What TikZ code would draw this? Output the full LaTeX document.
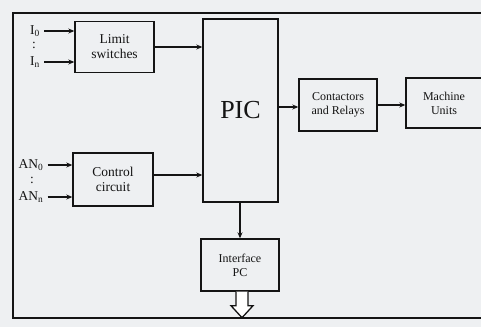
\documentclass[tikz,border=0pt]{standalone}
\usepackage{fontspec}
\setmainfont{Liberation Serif}
\usetikzlibrary{arrows.meta}
\definecolor{bgc}{RGB}{238,240,242}
\definecolor{ink}{RGB}{20,20,20}
\begin{document}
\begin{tikzpicture}[x=1pt,y=-1pt,
  box/.style={draw=ink, text=ink, line width=1.4pt, inner sep=0pt, align=center},
  conn/.style={draw=ink, line width=1.4pt, -{Stealth[length=6pt,width=5pt]}},
  lbl/.style={text=ink, inner sep=0pt, font=\fontsize{13.5}{15}\selectfont},
  mid/.style={font=\fontsize{13.5}{15}\selectfont},
  sml/.style={font=\fontsize{12}{14}\selectfont}]
\useasboundingbox (0,0) rectangle (481,327);
\clip (0,0) rectangle (481,327);
\fill[bgc] (0,0) rectangle (481,327);
\draw[ink, line width=2.4pt] (490,13) -- (13,13) -- (13,318) -- (490,318);

\node[box, mid, minimum width=79pt, minimum height=51pt] (lim) at (114.5,47) {Limit\\switches};
\node[box, mid, minimum width=80pt, minimum height=53pt] (ctl) at (113,179.5) {Control\\circuit};
\node[box, minimum width=75pt, minimum height=183pt, font=\fontsize{26}{30}\selectfont] (pic) at (240.5,110.5) {PIC};
\node[box, sml, minimum width=78pt, minimum height=52pt] (cont) at (338,105) {Contactors\\and Relays};
\node[box, sml, minimum width=76pt, minimum height=50pt] (mach) at (444,103) {Machine\\Units};
\node[box, sml, minimum width=78pt, minimum height=52pt] (ifc) at (240,265) {Interface\\PC};

\node[lbl] (i0) at (35,31) {I\textsubscript{0}};
\node[lbl] (idots) at (34,45) {:};
\node[lbl] (in) at (35,62) {I\textsubscript{n}};
\node[lbl] (an0) at (31,165) {AN\textsubscript{0}};
\node[lbl] (adots) at (32,180) {:};
\node[lbl] (ann) at (31,197) {AN\textsubscript{n}};

\draw[conn] ([xshift=4pt]i0.east) -- (i0 -| lim.west);
\draw[conn] ([xshift=4pt]in.east) -- (in -| lim.west);
\draw[conn] ([xshift=4pt]an0.east) -- (an0 -| ctl.west);
\draw[conn] ([xshift=4pt]ann.east) -- (ann -| ctl.west);
\draw[conn] (lim.east) -- (lim.east -| pic.west);
\draw[conn] ([yshift=4.5pt]ctl.east) -- ([yshift=4.5pt]ctl.east -| pic.west);
\draw[conn] ([yshift=-2pt]cont.west -| pic.east) -- ([yshift=-2pt]cont.west);
\draw[conn] (cont.east) -- (cont.east -| mach.west);
\draw[conn] (pic.south -| ifc.north) -- (ifc.north);

\draw[ink, line width=1.3pt, fill=white, shift={(ifc.south)}]
  (-4,0) -- (-4,14) -- (-9,14) -- (2,26) -- (13,14) -- (8,14) -- (8,0);
\end{tikzpicture}
\end{document}
